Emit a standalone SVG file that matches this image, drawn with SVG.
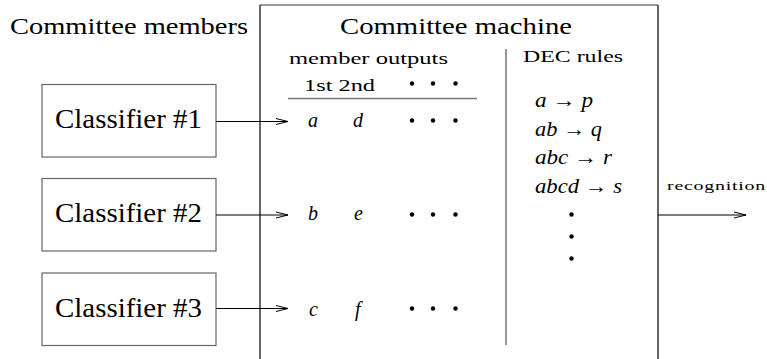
<svg xmlns="http://www.w3.org/2000/svg" width="767" height="359" viewBox="0 0 767 359">
<defs>
<style>
text{font-family:Liberation Serif, DejaVu Serif, Noto Serif, FreeSerif, Times, serif}
.big{font-size:24px}
.cls{font-size:27px}
.med{font-size:17px}
.it{font-size:20px;font-style:italic}
.small{font-size:13px;letter-spacing:0.5px}
.box{fill:none;stroke:#666;stroke-width:1.2}
.blk{fill:none;stroke:#000;stroke-width:1.2}
.grey{stroke:#777;stroke-width:1.5;fill:none}
.dot{fill:#000}
</style>
<marker id="arr" viewBox="0 0 12 8" refX="12" refY="4" markerWidth="12" markerHeight="8" markerUnits="userSpaceOnUse" orient="auto">
<path d="M0,1 L12,4 L0,7" fill="none" stroke="#000" stroke-width="1"/>
</marker>
</defs>
<rect width="767" height="359" fill="#fff"/>
<g id="title-members">
<text class="big" x="10" y="34" textLength="238" lengthAdjust="spacingAndGlyphs">Committee members</text>
</g>
<g id="committee-machine">
<line x1="260" y1="5" x2="658" y2="5" class="grey"/>
<line x1="260" y1="5" x2="260" y2="360" class="blk"/>
<line x1="658" y1="5" x2="658" y2="360" class="blk"/>
<text class="big" x="340" y="34" textLength="232" lengthAdjust="spacingAndGlyphs">Committee machine</text>
<text class="med" x="289" y="64" textLength="159" lengthAdjust="spacingAndGlyphs">member outputs</text>
<text class="med" x="304" y="91" textLength="71" lengthAdjust="spacingAndGlyphs">1st 2nd</text>
<circle class="dot" cx="412" cy="83.5" r="2.2"/>
<circle class="dot" cx="433" cy="83.5" r="2.2"/>
<circle class="dot" cx="455.5" cy="83.5" r="2.2"/>
<line x1="288" y1="98.5" x2="477" y2="98.5" class="grey"/>
<text class="it" x="308" y="127">a</text>
<text class="it" x="353" y="127">d</text>
<circle class="dot" cx="412" cy="120.5" r="2.2"/>
<circle class="dot" cx="433" cy="120.5" r="2.2"/>
<circle class="dot" cx="455.5" cy="120.5" r="2.2"/>
<text class="it" x="308" y="220">b</text>
<text class="it" x="354" y="220">e</text>
<circle class="dot" cx="412" cy="214.5" r="2.2"/>
<circle class="dot" cx="433" cy="214.5" r="2.2"/>
<circle class="dot" cx="455.5" cy="214.5" r="2.2"/>
<text class="it" x="309" y="316">c</text>
<text class="it" x="355" y="316">f</text>
<circle class="dot" cx="412" cy="308.5" r="2.2"/>
<circle class="dot" cx="433" cy="308.5" r="2.2"/>
<circle class="dot" cx="455.5" cy="308.5" r="2.2"/>
<line x1="506" y1="49" x2="506" y2="345" class="grey"/>
<text class="med" x="523" y="62" textLength="100" lengthAdjust="spacingAndGlyphs">DEC rules</text>
<text class="it" x="535" y="107" textLength="58" lengthAdjust="spacingAndGlyphs">a → p</text>
<text class="it" x="535" y="136" textLength="67" lengthAdjust="spacingAndGlyphs">ab → q</text>
<text class="it" x="535" y="164" textLength="77" lengthAdjust="spacingAndGlyphs">abc → r</text>
<text class="it" x="535" y="193" textLength="87" lengthAdjust="spacingAndGlyphs">abcd → s</text>
<circle class="dot" cx="571.5" cy="214.5" r="2.2"/>
<circle class="dot" cx="571.5" cy="236.5" r="2.2"/>
<circle class="dot" cx="571.5" cy="258.5" r="2.2"/>
</g>
<g id="classifier1">
<rect class="box" x="42" y="84.5" width="174" height="72.5"/>
<text class="cls" x="55" y="128" textLength="147" lengthAdjust="spacingAndGlyphs">Classifier #1</text>
</g>
<g id="classifier2">
<rect class="box" x="42" y="178.5" width="174" height="72.5"/>
<text class="cls" x="55" y="222" textLength="147" lengthAdjust="spacingAndGlyphs">Classifier #2</text>
</g>
<g id="classifier3">
<rect class="box" x="42" y="273" width="174" height="72.5"/>
<text class="cls" x="55" y="316.5" textLength="147" lengthAdjust="spacingAndGlyphs">Classifier #3</text>
</g>
<g id="connectors">
<line x1="216" y1="121.5" x2="288" y2="121.5" stroke="#000" stroke-width="1.2" marker-end="url(#arr)"/>
<line x1="216" y1="215" x2="288" y2="215" stroke="#000" stroke-width="1.2" marker-end="url(#arr)"/>
<line x1="216" y1="308.5" x2="288" y2="308.5" stroke="#000" stroke-width="1.2" marker-end="url(#arr)"/>
<line x1="658" y1="215" x2="746" y2="215" stroke="#000" stroke-width="1.2" marker-end="url(#arr)"/>
<text class="small" x="667" y="190" textLength="99" lengthAdjust="spacingAndGlyphs">recognition</text>
</g>
</svg>
